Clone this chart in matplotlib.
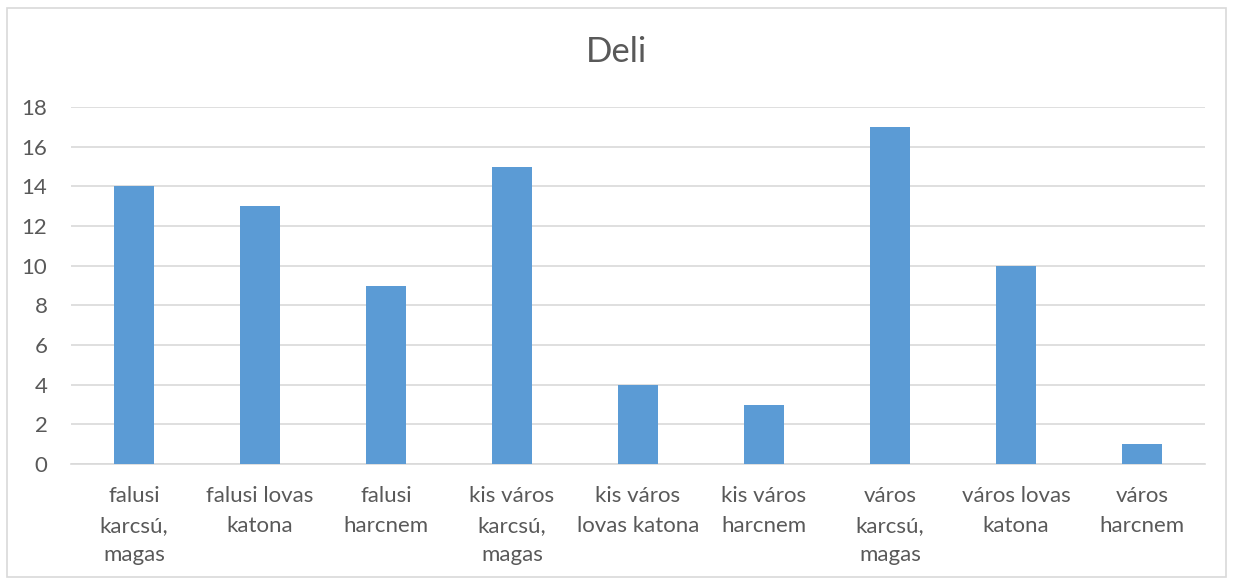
import matplotlib
matplotlib.use("Agg")
import matplotlib.pyplot as plt
from matplotlib.patches import Rectangle

categories = ["falusi\nkarcsú,\nmagas", "falusi lovas\nkatona", "falusi\nharcnem",
              "kis város\nkarcsú,\nmagas", "kis város\nlovas katona", "kis város\nharcnem",
              "város\nkarcsú,\nmagas", "város lovas\nkatona", "város\nharcnem"]
values = [14, 13, 9, 15, 4, 3, 17, 10, 1]
yticks = [0, 2, 4, 6, 8, 10, 12, 14, 16, 18]

plt.rcParams['font.family'] = ['Lato', 'DejaVu Sans']
txt = '#595959'

fig = plt.figure(figsize=(12.33, 5.8), dpi=100)
fig.patches.append(Rectangle((7/1233, 1 - 577/580), 1219/1233, 569/580, transform=fig.transFigure,
                             fill=False, edgecolor='#D9D9D9', linewidth=1.2))
ax = fig.add_axes([71/1233, 1 - 464/580, (1205 - 71)/1233, (464 - 107)/580])
x = list(range(len(categories)))
ax.bar(x, values, width=0.32, color='#5B9BD5', zorder=3)
ax.set_xlim(-0.5, len(categories) - 0.5)
ax.set_ylim(0, 18)
ax.set_yticks(yticks)
ax.set_yticklabels([str(t) for t in yticks], fontsize=16, color=txt)
ax.set_xticks(x)
ax.set_xticklabels(categories, fontsize=16, color=txt, linespacing=1.6)
ax.yaxis.grid(True, color='#D9D9D9', linewidth=1.2, zorder=0)
for s in ['top', 'right', 'left']:
    ax.spines[s].set_visible(False)
ax.spines['bottom'].set_color('#D9D9D9')
ax.spines['bottom'].set_linewidth(1.2)
ax.tick_params(axis='both', length=0)
ax.tick_params(axis='y', pad=17)
ax.tick_params(axis='x', pad=16)
fig.text(0.5, 1 - 52/580, "Deli", ha='center', va='center', fontsize=25, color=txt)
fig.savefig("out.png", dpi=100)
